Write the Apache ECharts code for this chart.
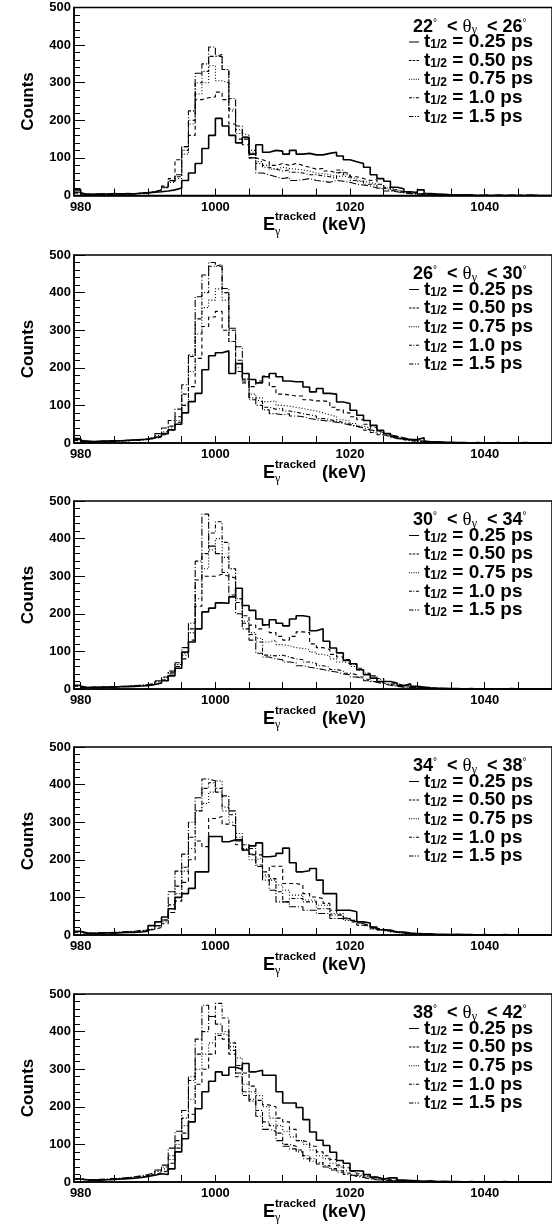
<!DOCTYPE html>
<html><head><meta charset="utf-8">
<script src="https://cdn.jsdelivr.net/npm/echarts@6/dist/echarts.min.js"></script>
<style>html,body{margin:0;padding:0;background:#fff}#c{width:552px;height:1224px}</style>
</head><body><div id="c"></div>
<script>
// ---------- data ----------
const BIN_LOW_EDGE = 979;          // first 1-keV bin is [979,980)
const X_MIN = 979, X_MAX = 1050;
const X_LABELS = [980, 1000, 1020, 1040];
const X_TICKS = [980,985,990,995,1000,1005,1010,1015,1020,1025,1030,1035,1040,1045,1050];
const Y_MIN = 0, Y_MAX = 500, Y_STEP = 100;
const ANGLE_LOW  = ["22","26","30","34","38"];
const ANGLE_HIGH = ["26","30","34","38","42"];
const HALF_LIVES = ["0.25","0.50","0.75","1.0","1.5"];

// counts per 1-keV bin, bins 979 ... 1049
const p1_025 = [15, 4,3,4,4,5,4,5,4,6,7, 9,10,12,15,20,40,60,85,125,160, 205,185,160,140,155,110,135,115,120,118, 110,120,110,112,108,108,112,115,105,95, 90,85,75,55,45,38,22,18,10,8, 15,5,4,3,2,1,2,1,0,1, 0,1,0,1,0,0,1,0,0,0];
const p1_050 = [8, 3,3,4,3,4,5,4,5,6,7, 10,15,25,45,95,130,160,255,260,262, 275,255,190,150,135,100,95,90,80,85, 80,85,80,75,70,72,65,60,62,58, 50,45,40,42,30,22,15,10,8,6, 5,4,3,2,2,1,1,1,0,1, 0,1,0,0,1,0,0,0,0,0];
const p1_075 = [6, 3,2,3,4,3,4,5,5,6,8, 8,12,20,35,45,110,190,270,300,345, 305,300,225,165,160,120,90,80,70,75, 72,70,68,65,60,58,55,50,52,48, 45,38,35,30,28,20,15,10,8,6, 4,3,3,2,1,1,1,0,1,0, 0,0,1,0,0,0,1,0,0,0];
const p1_100 = [7, 2,3,3,4,4,3,4,5,6,7, 10,14,22,38,50,120,200,300,330,370, 375,335,230,175,155,115,85,75,70,65, 68,62,60,55,55,52,50,45,68,55, 40,38,30,28,20,15,10,8,6,4, 3,2,2,1,1,0,1,0,0,0, 0,0,0,0,0,1,0,0,0,0];
const p1_150 = [9, 2,3,4,3,4,4,5,5,7,8, 10,15,22,40,55,130,225,325,350,395, 370,335,258,185,150,100,60,55,50,45, 48,40,42,45,40,38,35,40,38,35, 30,28,25,20,18,12,10,7,5,4, 3,2,1,1,1,0,0,1,0,0, 0,0,0,0,0,0,0,0,0,0];

const p2_025 = [12, 5,4,5,5,6,6,7,8,9,10, 14,18,25,35,50,80,110,132,195,232, 240,245,185,211,185,169,160,176,185,176, 165,163,163,149,136,145,132,130,109,105, 87,74,60,47,34,25,18,12,9,9, 14,3,3,2,2,1,1,0,1,0, 0,1,0,0,0,1,0,0,0,0];
const p2_050 = [8, 3,4,4,5,5,6,7,8,9,10, 12,16,22,35,55,100,150,225,310,335, 350,300,270,190,165,150,165,178,150,130, 128,125,125,115,112,112,110,95,88,80, 70,62,50,42,32,25,15,10,8,6, 4,3,2,2,1,1,0,1,0,0, 0,0,1,0,0,0,0,0,0,0];
const p2_075 = [6, 3,3,4,4,5,5,6,7,8,9, 12,18,25,40,60,100,190,290,360,380, 410,380,270,200,170,130,120,110,112,100, 98,95,92,88,85,80,75,70,62,58, 52,45,40,32,26,20,14,10,7,5, 4,3,2,1,1,1,0,0,0,0, 0,0,0,0,1,0,0,0,0,0];
const p2_100 = [7, 3,3,4,5,4,6,6,7,9,10, 13,20,30,45,70,130,230,330,400,470, 475,400,300,220,160,115,110,95,90,92, 85,82,78,75,72,65,62,58,55,50, 45,40,34,28,22,17,12,9,6,4, 3,2,2,1,1,0,0,0,0,0, 0,0,0,0,0,0,0,0,0,0];
const p2_150 = [9, 4,3,4,5,5,6,7,8,9,11, 15,25,40,60,90,155,234,389,447,480, 470,411,305,256,170,120,100,88,78,75, 78,72,70,65,62,60,58,55,52,48, 44,40,35,32,28,22,18,14,10,8, 6,4,3,2,1,1,1,0,0,0, 0,0,0,0,0,0,0,0,0,0];

const p3_025 = [10, 4,5,4,5,5,6,6,7,8,9, 12,16,22,35,55,98,125,160,205,215, 229,228,245,268,222,209,186,171,184,175, 168,186,195,192,155,160,127,109,96,76, 67,51,38,29,20,20,16,9,14,7, 5,3,2,2,1,1,0,1,0,0, 0,0,0,1,0,0,0,0,0,0];
const p3_050 = [8, 4,4,5,5,6,6,7,8,9,10, 12,16,24,40,60,80,130,220,300,300, 305,300,295,240,195,170,160,170,150,140, 130,140,152,150,120,110,105,92,85,78, 65,55,42,35,28,20,14,10,7,5, 4,3,2,1,1,1,0,0,0,0, 0,0,0,0,0,0,0,0,0,0];
const p3_075 = [7, 3,4,4,5,6,6,7,8,9,10, 12,18,26,42,65,90,150,240,320,370, 400,350,320,240,180,150,135,125,130,118, 115,110,108,105,98,92,88,80,72,68, 60,50,42,35,26,20,14,10,7,5, 4,3,2,1,1,0,0,0,0,0, 0,0,0,0,0,0,0,0,0,0];
const p3_100 = [8, 4,4,5,5,6,7,7,8,10,11, 14,20,30,45,65,95,160,290,360,415, 445,390,320,230,175,145,125,90,88,90, 85,80,78,72,68,62,58,52,48,42, 38,32,26,20,16,12,9,6,4,3, 2,2,1,1,0,0,0,0,0,0, 0,0,0,0,0,0,0,0,0,0];
const p3_150 = [9, 4,5,5,6,6,7,8,9,10,12, 15,22,32,48,70,110,175,340,465,380, 360,310,250,200,160,130,95,85,80,78, 72,70,62,58,55,52,48,45,40,38, 32,28,22,18,14,10,7,5,4,3, 2,1,1,1,0,0,0,0,0,0, 0,0,0,0,0,0,0,0,0,0];

const p4_025 = [10, 5,4,5,6,5,6,7,7,8,10, 25,35,48,70,100,110,124,168,168,262, 262,248,253,253,226,237,245,208,210,217, 231,192,168,171,177,146,110,110,66,66, 62,35,32,21,14,13,8,8,5,4, 3,3,2,2,1,2,1,1,0,1, 0,0,1,0,0,0,0,0,0,0];
const p4_050 = [8, 4,4,5,5,6,7,7,8,10,12, 15,20,30,60,90,140,200,250,235,310, 315,295,290,240,240,213,213,168,183,183, 137,137,133,110,101,97,84,66,53,44, 35,26,22,18,15,10,8,6,4,3, 2,2,1,1,1,0,0,0,0,0, 0,0,0,0,0,0,0,0,0,0];
const p4_075 = [7, 4,4,5,6,6,7,8,9,10,12, 16,22,35,60,110,170,230,330,350,380, 410,330,300,270,240,200,205,155,146,133, 119,106,106,93,93,79,79,57,57,39, 39,26,24,15,12,8,6,4,3,2, 2,1,1,0,0,0,0,0,0,0, 0,0,0,0,0,0,0,0,0,0];
const p4_100 = [8, 4,5,5,6,6,7,8,9,11,13, 18,25,40,80,130,180,260,330,390,405, 390,340,320,260,230,230,186,160,150,115, 88,97,97,88,88,70,70,53,53,45, 39,32,26,20,14,10,7,5,4,3, 2,1,1,0,0,0,0,0,0,0, 0,0,0,0,0,0,0,0,0,0];
const p4_150 = [9, 5,5,6,6,7,8,9,10,12,14, 15,25,40,115,170,215,300,365,415,410, 380,370,330,250,225,215,182,146,119,88, 88,75,75,66,66,57,57,44,44,40, 35,30,25,18,14,10,8,6,4,3, 2,1,1,0,0,0,0,0,0,0, 0,0,0,0,0,0,0,0,0,0];

const p5_025 = [8, 6,5,5,6,7,8,9,10,12,15, 18,22,20,35,80,115,160,195,240,268, 293,284,305,300,315,293,297,284,284,240, 210,210,198,166,133,111,97,79,57,50, 30,29,20,13,8,11,11,5,4,3, 2,3,1,2,1,1,0,1,0,0, 0,0,1,0,0,0,0,0,0,0];
const p5_050 = [8, 5,5,6,6,7,8,9,11,13,15, 20,25,30,50,90,130,180,260,300,340, 390,380,340,310,290,255,217,205,200,170, 160,140,110,105,95,80,70,60,45,38, 28,22,16,12,8,6,5,4,3,2, 2,1,1,1,0,0,0,0,0,0, 0,0,0,0,0,0,0,0,0,0];
const p5_075 = [7, 5,5,6,7,7,8,10,12,14,16, 20,28,35,60,100,150,220,300,340,370, 395,390,360,330,260,240,230,200,170,150, 135,120,110,100,85,70,62,50,40,30, 25,18,14,10,7,5,4,3,2,2, 1,1,1,0,0,0,0,0,0,0, 0,0,0,0,0,0,0,0,0,0];
const p5_100 = [8, 5,6,6,7,8,9,11,13,15,18, 22,30,40,70,110,170,270,340,400,440, 475,436,370,280,230,215,190,160,150,130, 100,95,85,70,62,52,44,36,30,24, 18,14,10,7,5,4,3,2,2,1, 1,1,0,0,0,0,0,0,0,0, 0,0,0,0,0,0,0,0,0,0];
const p5_150 = [9, 6,6,7,8,9,10,12,14,17,20, 25,32,45,90,135,190,280,380,470,440, 420,400,350,290,240,220,175,140,135,110, 95,88,80,62,55,48,40,32,26,20, 15,12,8,6,5,4,3,2,1,1, 1,0,0,0,0,0,0,0,0,0, 0,0,0,0,0,0,0,0,0,0];

const PANELS = [
  [p1_025, p1_050, p1_075, p1_100, p1_150],
  [p2_025, p2_050, p2_075, p2_100, p2_150],
  [p3_025, p3_050, p3_075, p3_100, p3_150],
  [p4_025, p4_050, p4_075, p4_100, p4_150],
  [p5_025, p5_050, p5_075, p5_100, p5_150]
];

// ---------- layout / style ----------
const FONT = 'Liberation Sans';
const GRID_TOPS = [7.5, 255, 501, 747, 994];
const GRID_H = 188;
const GRID_LEFT = 74;
const GRID_RIGHT = -3;
const LINE_STYLES = [
  {type: 'solid', width: 1.6},
  {type: [4, 3], width: 1.1},
  {type: [1, 2], width: 1.1},
  {type: [4, 2, 1, 2], width: 1.1},
  {type: [7, 2, 1, 2], width: 1.1}
];
// legend line samples (10 x 1 units, stretched to itemWidth x itemHeight)
const LEGEND_ICONS = [
  'path://M0,0h10v1h-10z',
  'path://M0,0h2.5v1h-2.5z M3.75,0h2.5v1h-2.5z M7.5,0h2.5v1h-2.5z',
  'path://M0,0h1v1h-1z M2.25,0h1v1h-1z M4.5,0h1v1h-1z M6.75,0h1v1h-1z M9,0h1v1h-1z',
  'path://M0,0h3v1h-3z M4.5,0h1v1h-1z M7,0h3v1h-3z',
  'path://M0,0h4.5v1h-4.5z M6,0h1v1h-1z M8.5,0h1.5v1h-1.5z'
];

function histData(arr) {
  const d = arr.map((v, i) => [BIN_LOW_EDGE + i, v]);
  d.push([BIN_LOW_EDGE + arr.length, arr[arr.length - 1]]);
  return d;
}

const grids = [], xAxes = [], yAxes = [], series = [], legends = [], titles = [], graphics = [];
GRID_TOPS.forEach((top, k) => {
  grids.push({left: GRID_LEFT, right: GRID_RIGHT, top: top, height: GRID_H,
    show: true, borderColor: '#000', borderWidth: 1.5, backgroundColor: 'transparent'});
  xAxes.push({type: 'value', gridIndex: k, min: X_MIN, max: X_MAX,
    axisLine: {show: true, onZero: false, lineStyle: {color: '#000', width: 1.5}},
    axisTick: {show: true, inside: true, length: 7, customValues: X_TICKS, lineStyle: {color: '#000', width: 1}},
    axisLabel: {show: true, customValues: X_LABELS, margin: 5, color: '#000',
      fontFamily: FONT, fontWeight: 'bold', fontSize: 13, formatter: v => String(v)},
    splitLine: {show: false}});
  yAxes.push({type: 'value', gridIndex: k, min: Y_MIN, max: Y_MAX, interval: Y_STEP,
    name: 'Counts', nameLocation: 'middle', nameGap: 37,
    nameTextStyle: {color: '#000', fontFamily: FONT, fontWeight: 'bold', fontSize: 17},
    axisLine: {show: true, lineStyle: {color: '#000', width: 1.5}},
    axisTick: {show: true, inside: true, length: 11, lineStyle: {color: '#000', width: 1}},
    minorTick: {show: true, splitNumber: 5, length: 6, lineStyle: {color: '#000', width: 1}},
    axisLabel: {margin: 3, color: '#000', fontFamily: FONT, fontWeight: 'bold', fontSize: 13},
    splitLine: {show: false}, minorSplitLine: {show: false}});
  PANELS[k].forEach((arr, s) => {
    series.push({type: 'line', name: HALF_LIVES[s], xAxisIndex: k, yAxisIndex: k,
      step: 'end', symbol: 'none', showSymbol: false, animation: false, silent: true,
      lineStyle: {color: '#000', width: LINE_STYLES[s].width, type: LINE_STYLES[s].type},
      itemStyle: {color: '#000'},
      data: histData(arr), z: 10 - s});
  });
  legends.push({orient: 'vertical', left: 409, top: top + 25, padding: 0,
    itemWidth: 10, itemHeight: 1.3, itemGap: -0.4, selectedMode: false,
    data: HALF_LIVES.map((n, i) => ({name: n, icon: LEGEND_ICONS[i]})),
    itemStyle: {color: '#000'},
    formatter: n => '{t|t}{s|1/2}{t| = ' + n + ' ps}',
    textStyle: {color: '#000', rich: {
      t: {fontFamily: FONT, fontWeight: 'bold', fontSize: 19, lineHeight: 18, color: '#000'},
      s: {fontFamily: FONT, fontWeight: 'bold', fontSize: 12, lineHeight: 1, verticalAlign: 'bottom', color: '#000'}
    }}});
  titles.push({left: 413, top: top + 10.5, padding: 0,
    text: '{n|' + ANGLE_LOW[k] + '}{d|°}{n|  < }{th|θ}{g|γ}{n|  < ' + ANGLE_HIGH[k] + '}{d|°}',
    textStyle: {rich: {
      n: {fontFamily: FONT, fontWeight: 'bold', fontSize: 18, lineHeight: 18, color: '#000'},
      d: {fontFamily: FONT, fontWeight: 'normal', fontSize: 10, lineHeight: 10, verticalAlign: 'top', color: '#000'},
      th: {fontFamily: 'Liberation Serif', fontWeight: 'normal', fontSize: 19, lineHeight: 18, color: '#000'},
      g: {fontFamily: 'Liberation Serif', fontWeight: 'normal', fontSize: 12, lineHeight: 10, verticalAlign: 'bottom', color: '#000'}
    }}});
  const b = top + GRID_H;
  graphics.push(
    {type: 'text', x: 263, y: b + 30, silent: true,
      style: {text: 'E', font: 'bold 18px "Liberation Sans"', fill: '#000', textAlign: 'left', textVerticalAlign: 'middle'}},
    {type: 'text', x: 275, y: b + 21.5, silent: true,
      style: {text: 'tracked', font: 'bold 11.5px "Liberation Sans"', fill: '#000', textAlign: 'left', textVerticalAlign: 'middle'}},
    {type: 'text', x: 275, y: b + 36, silent: true,
      style: {text: 'γ', font: '12px "Liberation Serif"', fill: '#000', textAlign: 'left', textVerticalAlign: 'middle'}},
    {type: 'text', x: 322, y: b + 30, silent: true,
      style: {text: '(keV)', font: 'bold 18px "Liberation Sans"', fill: '#000', textAlign: 'left', textVerticalAlign: 'middle'}}
  );
});

const chart = echarts.init(document.getElementById('c'), null, {renderer: 'canvas', width: 552, height: 1224});
chart.setOption({
  animation: false,
  backgroundColor: '#fff',
  grid: grids, xAxis: xAxes, yAxis: yAxes, series: series,
  legend: legends, title: titles, graphic: graphics
});
</script></body></html>
